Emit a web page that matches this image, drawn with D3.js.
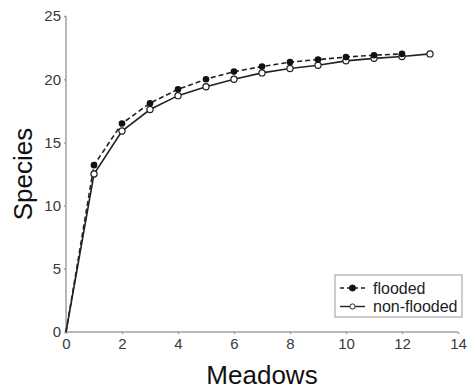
<!DOCTYPE html>
<meta charset="utf-8">
<style type="text/css">
body { margin: 0; background: #fff; }
.axis path, .axis line { stroke: #a0a0a0; stroke-width: 1.5; }
.axis text { font-family: "Liberation Sans", Arial, sans-serif; font-size: 15px; fill: #3a3a3a; }
.title { font-family: "Liberation Sans", Arial, sans-serif; font-size: 26px; fill: #111; }
.line { fill: none; stroke: #222; stroke-width: 1.6; }
.legend text { font-family: "Liberation Sans", Arial, sans-serif; font-size: 16px; fill: #222; }
</style>
<body>
<div id="chart"></div>
<script src="https://d3js.org/d3.v7.min.js"></script>
<script type="text/javascript">
// species accumulation values
var meadows = [0, 1, 2, 3, 4, 5, 6, 7, 8, 9, 10, 11, 12, 13];
var flooded = [0, 13.2, 16.5, 18.1, 19.2, 20.0, 20.6, 21.0, 21.35, 21.55, 21.75, 21.9, 22.0];
var nonFlooded = [0, 12.5, 15.9, 17.6, 18.7, 19.4, 20.0, 20.5, 20.85, 21.1, 21.45, 21.65, 21.8, 22.0];
var xTicks = [0, 2, 4, 6, 8, 10, 12, 14];
var yTicks = [0, 5, 10, 15, 20, 25];
var seriesNames = ["flooded", "non-flooded"];

var margin = { top: 16, right: 11, bottom: 58, left: 66 },
    width = 469 - margin.left - margin.right,
    height = 390 - margin.top - margin.bottom;

var svg = d3.select("#chart").append("svg")
    .attr("width", 469)
    .attr("height", 390)
  .append("g")
    .attr("transform", "translate(" + margin.left + "," + margin.top + ")");

var x = d3.scaleLinear().domain([0, 14]).range([0, width]);
var y = d3.scaleLinear().domain([0, 25]).range([height, 0]);

svg.append("g")
    .attr("class", "axis")
    .attr("transform", "translate(0," + height + ")")
    .call(d3.axisBottom(x).tickValues(xTicks).tickSize(2).tickPadding(4))
    .call(function(g) { g.select(".domain").attr("d", "M0,0H" + width); });

svg.append("g")
    .attr("class", "axis")
    .call(d3.axisLeft(y).tickValues(yTicks).tickSize(2).tickPadding(3))
    .call(function(g) { g.select(".domain").attr("d", "M0," + height + "V0"); });

var line = d3.line()
    .x(function(d) { return x(d.x); })
    .y(function(d) { return y(d.y); });

var fData = flooded.map(function(v, i) { return { x: meadows[i], y: v }; });
var nData = nonFlooded.map(function(v, i) { return { x: meadows[i], y: v }; });

svg.append("path").datum(nData).attr("class", "line").attr("d", line);
svg.append("path").datum(fData).attr("class", "line")
    .attr("stroke-dasharray", "5,3").attr("d", line);

svg.selectAll(".ndot").data(nData.slice(1)).enter().append("circle")
    .attr("cx", function(d) { return x(d.x); })
    .attr("cy", function(d) { return y(d.y); })
    .attr("r", 3.1).attr("fill", "#fff").attr("stroke", "#222").attr("stroke-width", 1.2);

svg.selectAll(".fdot").data(fData.slice(1)).enter().append("circle")
    .attr("cx", function(d) { return x(d.x); })
    .attr("cy", function(d) { return y(d.y); })
    .attr("r", 3.3).attr("fill", "#111");

// axis titles
svg.append("text").attr("class", "title")
    .attr("x", width / 2).attr("y", height + 52)
    .attr("text-anchor", "middle").text("Meadows");

svg.append("text").attr("class", "title")
    .attr("transform", "translate(-34," + (height / 2) + ") rotate(-90)")
    .attr("text-anchor", "middle").text("Species");

// legend
var lg = svg.append("g").attr("class", "legend")
    .attr("transform", "translate(" + (335 - margin.left) + "," + (275 - margin.top) + ")");
lg.append("rect").attr("width", 127).attr("height", 42)
    .attr("fill", "#fff").attr("stroke", "#999").attr("stroke-width", 1);
seriesNames.forEach(function(name, i) {
    var yy = 13 + i * 18.5;
    lg.append("line").attr("x1", 5).attr("x2", 30).attr("y1", yy).attr("y2", yy)
        .attr("stroke", "#222").attr("stroke-width", 1.4)
        .attr("stroke-dasharray", i === 0 ? "4,3" : null);
    lg.append("circle").attr("cx", 17.5).attr("cy", yy).attr("r", i === 0 ? 3.1 : 2.6)
        .attr("fill", i === 0 ? "#111" : "#fff").attr("stroke", "#222").attr("stroke-width", 1);
    lg.append("text").attr("x", 38).attr("y", yy + 5.5).text(name);
});
</script>
</body>
